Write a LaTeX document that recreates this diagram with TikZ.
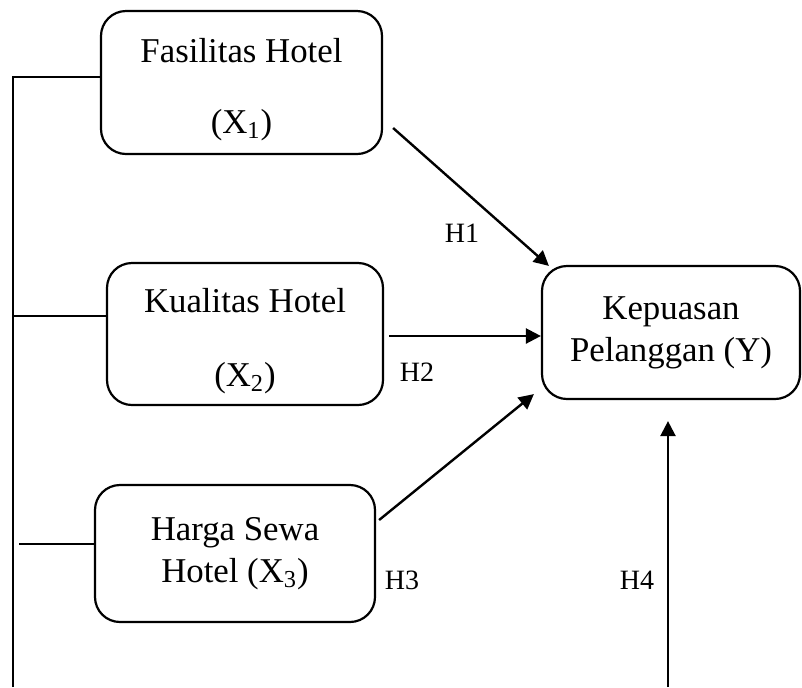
\documentclass[tikz,border=0pt]{standalone}
\usepackage{fontspec}
\setmainfont{Liberation Serif}
\usetikzlibrary{positioning,calc,arrows.meta}

\begin{document}
\begin{tikzpicture}[x=0.5pt,y=-0.5pt,
		varbox/.style={draw=black,line width=1.1pt,rounded corners=12.5pt,align=center,inner sep=0pt,font=\fontsize{17.4}{20.9}\selectfont},
		arr/.style={line width=1.2pt,-{Triangle[length=7.5pt,width=7.5pt]}},
		conn/.style={line width=1.1pt},
		hlabel/.style={font=\fontsize{14}{17}\selectfont}]
		\useasboundingbox (0,0) rectangle (802,687);
		
		% Variable boxes
		\node[varbox,minimum width=140.5pt,minimum height=71.5pt] (X1) at (241.5,82.5) {\rule{0pt}{19pt}Fasilitas Hotel\\[14.5pt](X\textsubscript{1})};
		\node[varbox,minimum width=138pt,minimum height=71pt] (X2) at (245,334) {\rule{0pt}{19.5pt}Kualitas Hotel\\[16pt](X\textsubscript{2})};
		\node[varbox,minimum width=140pt,minimum height=68.5pt] (X3) at (235,553.5) {Harga Sewa\\Hotel (X\textsubscript{3})};
		\node[varbox,minimum width=129pt,minimum height=66.5pt] (Y) at (671,332.5) {Kepuasan\\Pelanggan (Y)};
		
		% Left bracket lines
		\coordinate(S0) at (13,687);
		\coordinate(S1) at (13,77);
		\coordinate(S2) at (13,316);
		\coordinate(S3) at (19,544);
		\draw[conn] (S0) -- (S1) -- (S1 -| X1.west);
		\draw[conn] (S2) -- (S2 -| X2.west);
		\draw[conn] (S3) -- (S3 -| X3.west);
		
		% Hypothesis arrows
		\coordinate(A1) at ($(X1.east)+(10,45.5)$);
		\coordinate(B1) at ($(Y.north west)+(8,1)$);
		\coordinate(A2) at ($(X2.east)+(5,2)$);
		\coordinate(A3) at ($(X3.east)+(3,-33.5)$);
		\coordinate(B3) at ($(Y.south west)+(-7,-6)$);
		\coordinate(A4) at (668,687);
		\coordinate(B4) at ($(Y.south)+(-3,21)$);
		\draw[arr] (A1) -- (B1);
		\draw[arr] (A2) -- (A2 -| Y.west);
		\draw[arr] (A3) -- (B3);
		\draw[arr] (A4) -- (B4);
		
		\node[hlabel] (H1) at (462,233) {H1};
		\node[hlabel] (H2) at (417,372) {H2};
		\node[hlabel] (H3) at (402,580) {H3};
		\node[hlabel] (H4) at (637,580) {H4};
	\end{tikzpicture}
\end{document}
